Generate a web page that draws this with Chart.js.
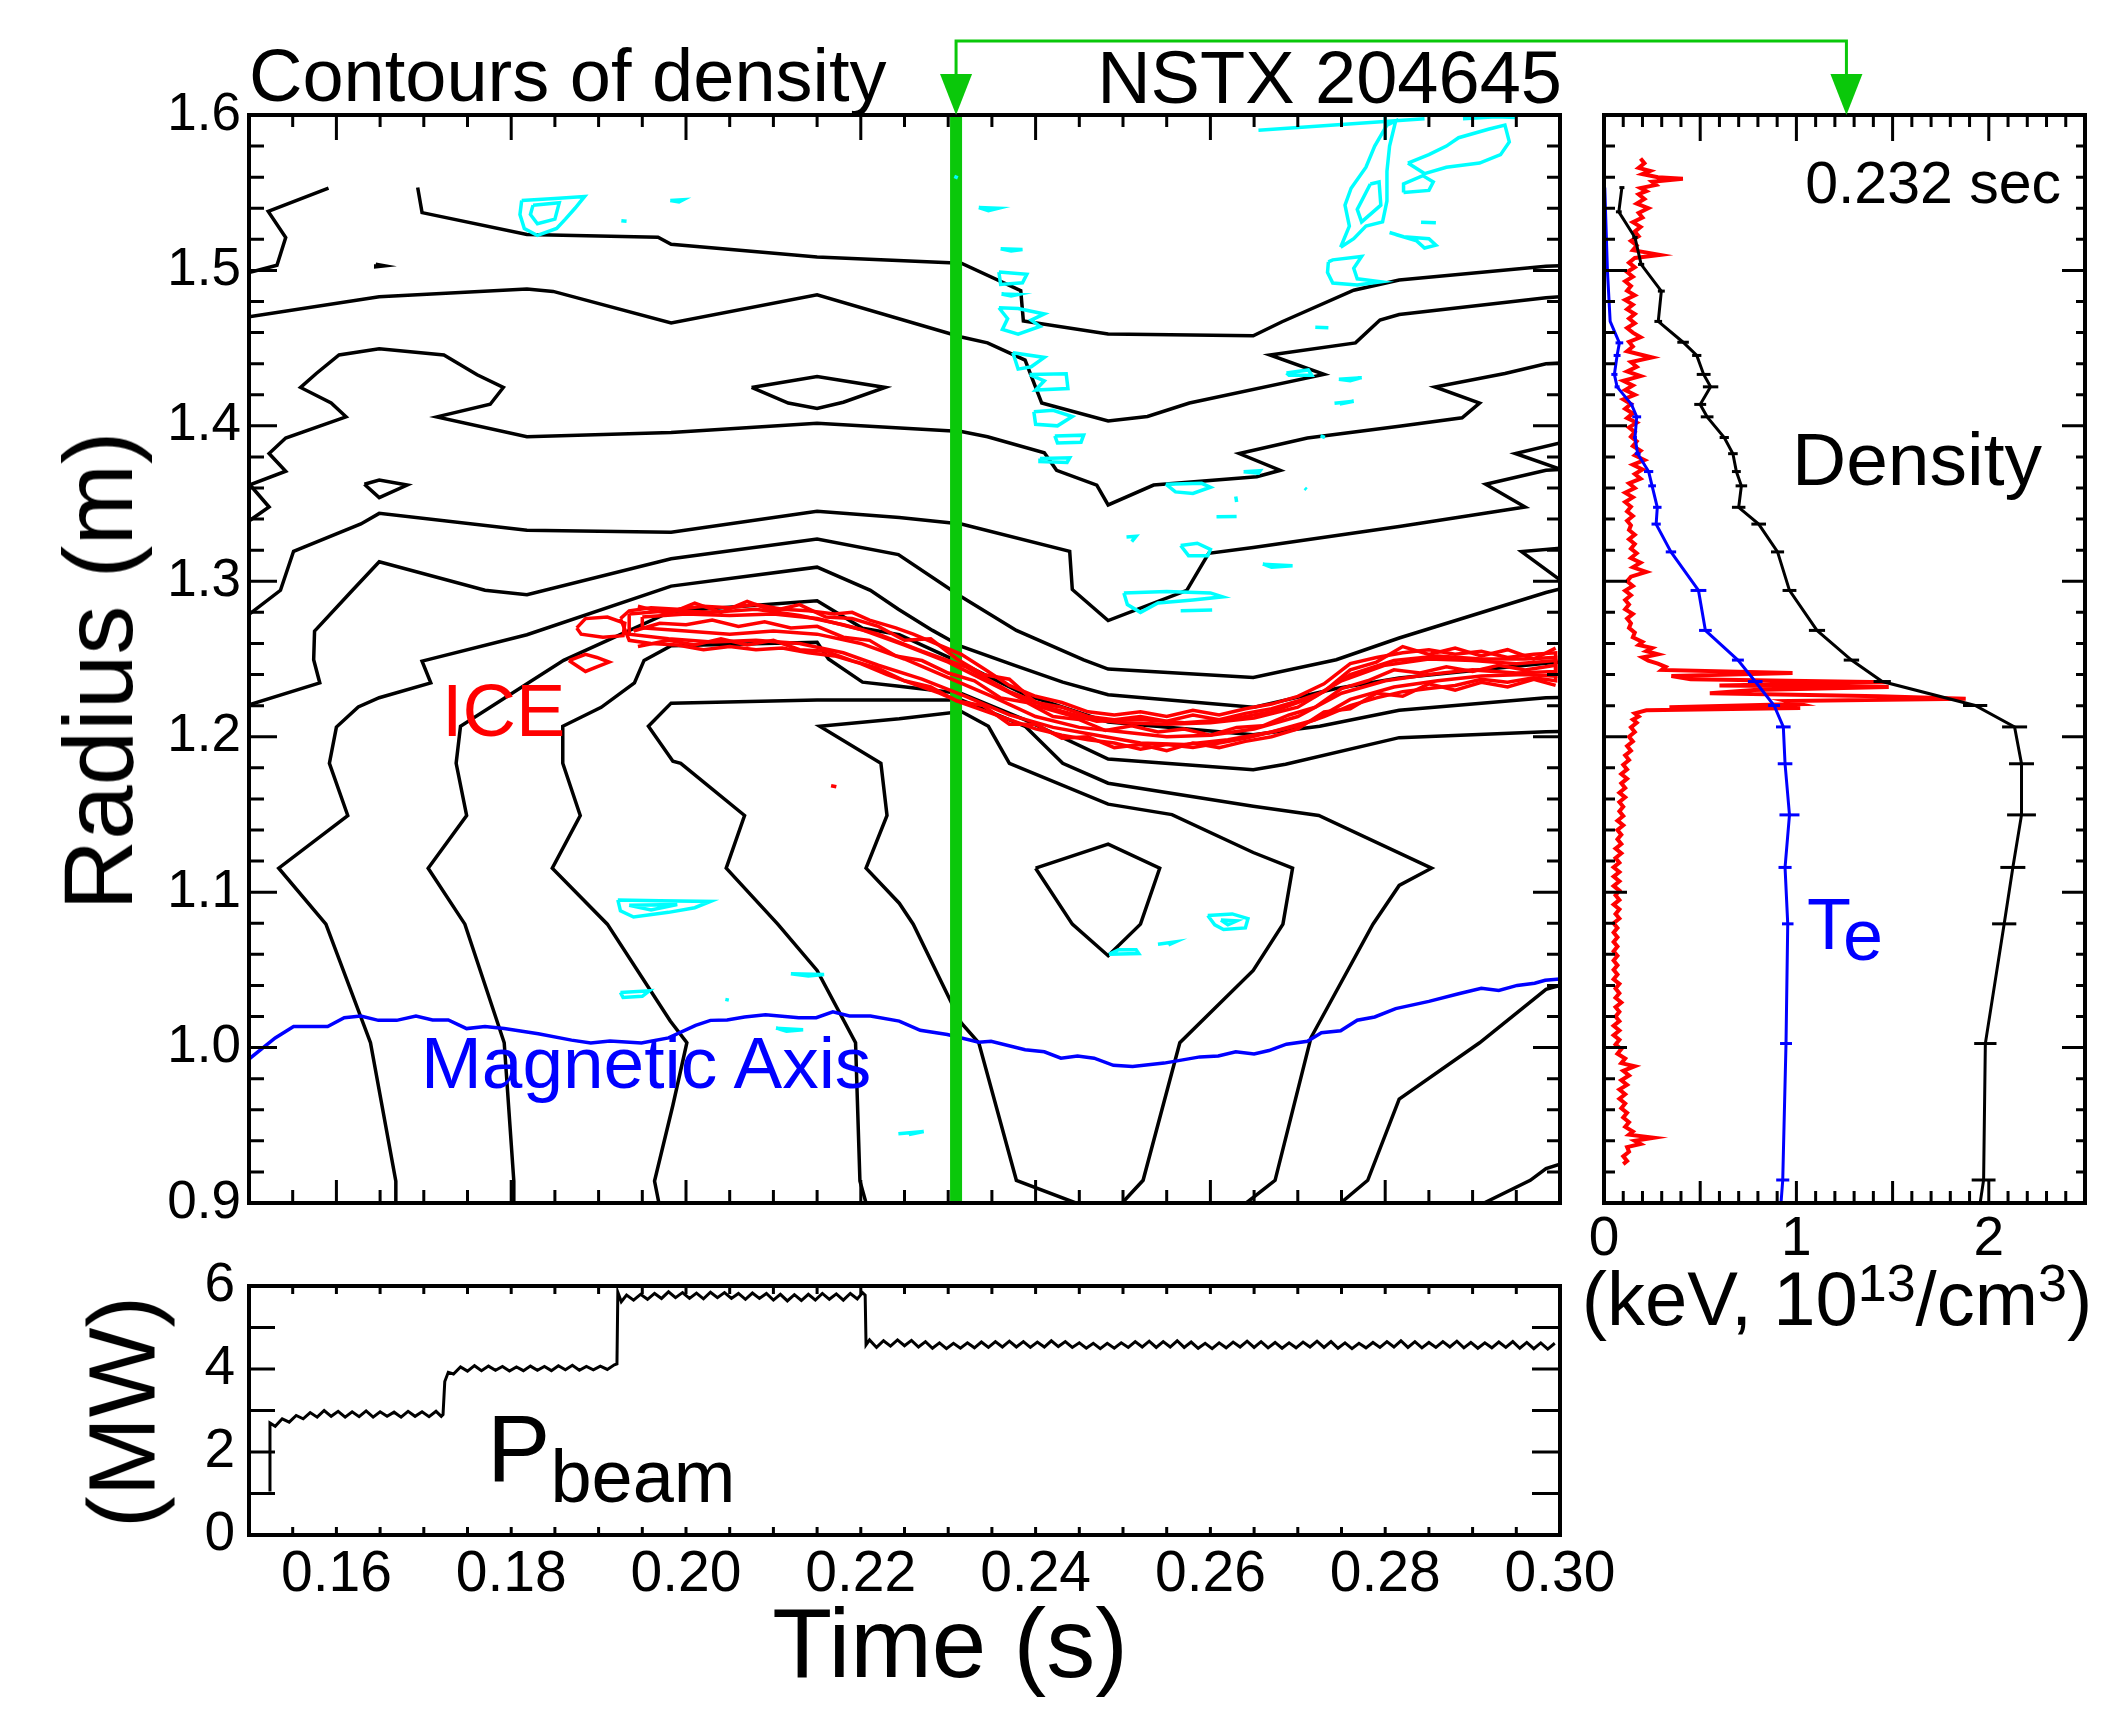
<!DOCTYPE html>
<html lang="en">
<head>
<meta charset="UTF-8">
<title>NSTX 204645 - density contours, ICE and beam power</title>
<script src="https://cdn.jsdelivr.net/npm/chart.js@4.4.1/dist/chart.umd.min.js"></script>
<style>
  body { margin: 0; background: #fff; }
  #page { position: relative; width: 2117px; height: 1709px; overflow: hidden; background: #fff;
          font-family: 'Liberation Sans', Arial, Helvetica, sans-serif; }
  #page canvas { position: absolute; left: 0; top: 0; }
  .lbl { position: absolute; line-height: 1; white-space: nowrap; color: #000; }
  .rot { transform: translate(-50%, -50%) rotate(-90deg); }
  .sup { font-size: 52px; vertical-align: 24px; line-height: 0; }
</style>
</head>
<body>
<div id="page">
  <canvas id="contourChart" width="2117" height="1709"></canvas>
  <canvas id="profileChart" width="2117" height="1709"></canvas>
  <canvas id="beamChart" width="2117" height="1709"></canvas>

  <div class="lbl" style="left:249px; top:39px; font-size:74px;">Contours of density</div>
  <div class="lbl" style="right:555px; top:41px; font-size:74px;">NSTX 204645</div>
  <div class="lbl rot" style="left:98px; top:671px; font-size:98px;">Radius (m)</div>
  <div class="lbl rot" style="left:122px; top:1412px; font-size:95px;">(MW)</div>
  <div class="lbl" style="left:950px; top:1594px; font-size:98px; transform:translateX(-50%);">Time (s)</div>
  <div class="lbl" style="left:1837px; top:1261px; font-size:76px; transform:translateX(-50%);">(keV, 10<span class="sup">13</span>/cm<span class="sup">3</span>)</div>
  <div class="lbl" style="right:56px; top:154px; font-size:59px;">0.232 sec</div>
  <div class="lbl" style="left:1792px; top:422px; font-size:75px;">Density</div>
  <div class="lbl" style="left:1807px; top:888px; font-size:72px; color:#0000ff;">T<span style="position:relative; top:11px;">e</span></div>
  <div class="lbl" style="left:421px; top:1026px; font-size:73px; color:#0000ff;">Magnetic Axis</div>
  <div class="lbl" style="left:442px; top:674px; font-size:74px; color:#ff0000;">ICE</div>
  <div class="lbl" style="left:487px; top:1401px; font-size:95px;">P<span style="font-size:74px; vertical-align:-21px; line-height:0;">beam</span></div>
</div>

<script>
// ---- density contours, [time (s), radius (m)] ----
const neContourA = [[0.1591,1.5529],[0.1522,1.5380],[0.1542,1.5212],[0.1532,1.5033],[0.1500,1.4987]];
const neContourB = [[0.1693,1.5534],[0.1698,1.5372],[0.1818,1.5231],[0.1968,1.5214],[0.1983,1.5168],[0.2150,1.5087],[0.2315,1.5046],[0.2383,1.4870],[0.2386,1.4675],[0.2483,1.4591],[0.2649,1.4580],[0.2682,1.4670],[0.2764,1.4873],[0.2816,1.4938],[0.2984,1.5027],[0.3000,1.5030]];
const neContourC = [[0.1500,1.4702],[0.1649,1.4830],[0.1818,1.4881],[0.1848,1.4865],[0.1983,1.4662],[0.2150,1.4843],[0.2315,1.4572],[0.2345,1.4534],[0.2388,1.4423],[0.2407,1.4147],[0.2483,1.4031],[0.2528,1.4060],[0.2576,1.4147],[0.2730,1.4331],[0.2668,1.4456],[0.2766,1.4534],[0.2794,1.4681],[0.2816,1.4716],[0.2984,1.4824],[0.3000,1.4830]];
const neContourD = [[0.1500,1.3388],[0.1523,1.3478],[0.1501,1.3621],[0.1542,1.3708],[0.1523,1.3822],[0.1542,1.3922],[0.1611,1.4058],[0.1594,1.4147],[0.1559,1.4247],[0.1577,1.4337],[0.1603,1.4456],[0.1649,1.4496],[0.1723,1.4456],[0.1761,1.4329],[0.1791,1.4247],[0.1776,1.4139],[0.1715,1.4058],[0.1818,1.3930],[0.1983,1.3957],[0.2150,1.4017],[0.2315,1.3963],[0.2345,1.3930],[0.2410,1.3827],[0.2424,1.3714],[0.2470,1.3619],[0.2483,1.3491],[0.2535,1.3619],[0.2653,1.3673],[0.2680,1.3714],[0.2633,1.3822],[0.2711,1.3922],[0.2816,1.3998],[0.2888,1.4052],[0.2908,1.4147],[0.2857,1.4250],[0.2937,1.4337],[0.2984,1.4399],[0.3000,1.4405]];
const neContourE = [[0.1500,1.2787],[0.1536,1.2942],[0.1551,1.3193],[0.1628,1.3369],[0.1649,1.3437],[0.1818,1.3329],[0.1983,1.3315],[0.2150,1.3451],[0.2244,1.3410],[0.2315,1.3369],[0.2439,1.3193],[0.2442,1.2947],[0.2483,1.2747],[0.2573,1.2942],[0.2598,1.3180],[0.2649,1.3218],[0.2816,1.3353],[0.2960,1.3478],[0.2915,1.3624],[0.2984,1.3714],[0.3000,1.3720]];
const neContourF = [[0.1500,1.2205],[0.1581,1.2346],[0.1574,1.2495],[0.1575,1.2679],[0.1616,1.2928],[0.1649,1.3126],[0.1770,1.2942],[0.1818,1.2914],[0.1983,1.3145],[0.2150,1.3272],[0.2243,1.3172],[0.2315,1.2901],[0.2378,1.2684],[0.2455,1.2495],[0.2483,1.2435],[0.2649,1.2381],[0.2744,1.2495],[0.2816,1.2635],[0.2984,1.2928],[0.3000,1.2950]];
const neContourG = [[0.1668,0.9000],[0.1668,0.9141],[0.1639,1.0031],[0.1588,1.0794],[0.1534,1.1154],[0.1613,1.1493],[0.1592,1.1829],[0.1600,1.2062],[0.1625,1.2192],[0.1649,1.2251],[0.1708,1.2346],[0.1698,1.2486],[0.1818,1.2656],[0.1983,1.2969],[0.2150,1.3091],[0.2211,1.2942],[0.2243,1.2820],[0.2282,1.2684],[0.2315,1.2581],[0.2376,1.2459],[0.2431,1.2351],[0.2483,1.2270],[0.2649,1.2189],[0.2744,1.2310],[0.2816,1.2378],[0.2984,1.2473],[0.3000,1.2480]];
const neContourK = [[0.1803,0.9000],[0.1803,0.9141],[0.1792,1.0031],[0.1747,1.0794],[0.1705,1.1154],[0.1749,1.1493],[0.1737,1.1829],[0.1742,1.2067],[0.1860,1.2491],[0.1983,1.2806],[0.2150,1.2874],[0.2202,1.2698],[0.2244,1.2657],[0.2315,1.2473],[0.2388,1.2270],[0.2483,1.2094],[0.2649,1.2013],[0.2725,1.2067],[0.2816,1.2170],[0.2984,1.2251],[0.3000,1.2253]];
const neContourJ = [[0.1969,0.9000],[0.1964,0.9141],[0.1985,0.9629],[0.2001,1.0031],[0.1982,1.0171],[0.1910,1.0794],[0.1847,1.1154],[0.1879,1.1493],[0.1859,1.1829],[0.1859,1.2067],[0.1903,1.2189],[0.1941,1.2346],[0.1952,1.2491],[0.1983,1.2586],[0.2150,1.2608],[0.2163,1.2500],[0.2202,1.2351],[0.2244,1.2324],[0.2315,1.2278],[0.2388,1.2108],[0.2483,1.1856],[0.2649,1.1788],[0.2686,1.1823],[0.2816,1.1994],[0.2984,1.2032],[0.3000,1.2034]];
const neContourL = [[0.2206,0.9000],[0.2199,0.9141],[0.2194,1.0031],[0.2150,1.0496],[0.2105,1.0794],[0.2046,1.1154],[0.2067,1.1493],[0.1994,1.1829],[0.1985,1.1842],[0.1957,1.2067],[0.1983,1.2216],[0.2150,1.2237],[0.2315,1.2237],[0.2388,1.2067],[0.2431,1.1829],[0.2483,1.1701],[0.2649,1.1553],[0.2724,1.1493],[0.2853,1.1154],[0.2816,1.1043],[0.2786,1.0794],[0.2715,1.0063],[0.2674,0.9146],[0.2641,0.9000]];
const neContourM = [[0.2446,0.9000],[0.2378,0.9146],[0.2335,1.0031],[0.2315,1.0158],[0.2260,1.0794],[0.2244,1.0929],[0.2206,1.1154],[0.2230,1.1493],[0.2223,1.1829],[0.2153,1.2067],[0.2244,1.2115],[0.2315,1.2162],[0.2346,1.2067],[0.2370,1.1829],[0.2483,1.1566],[0.2556,1.1499],[0.2649,1.1255],[0.2694,1.1154],[0.2683,1.0794],[0.2649,1.0496],[0.2565,1.0031],[0.2523,0.9146],[0.2499,0.9000]];
const neContourN = [[0.2749,0.9000],[0.2780,0.9146],[0.2816,0.9669],[0.2908,1.0031],[0.2984,1.0375],[0.3000,1.0400]];
const neContourP = [[0.2913,0.9000],[0.2966,0.9146],[0.2984,0.9222],[0.3000,0.9250]];
const neIslandTop = [[0.2075,1.4247],[0.2150,1.4318],[0.2228,1.4247],[0.2180,1.4152],[0.2150,1.4112],[0.2117,1.4147],[0.2075,1.4247]];
const neIslandLeft = [[0.1632,1.3624],[0.1649,1.3651],[0.1681,1.3619],[0.1649,1.3538],[0.1632,1.3624]];
const neIslandCore = [[0.2400,1.1154],[0.2483,1.1309],[0.2542,1.1154],[0.2520,1.0794],[0.2483,1.0591],[0.2442,1.0794],[0.2400,1.1154]];
const neEdgeWedge1 = [[0.3000,1.3890],[0.2949,1.3822],[0.3000,1.3722]];
const neEdgeWedge2 = [[0.3000,1.3212],[0.2956,1.3191],[0.3000,1.3009]];
const neDot = [[0.1645,1.5040],[0.1655,1.5030],[0.1645,1.5024],[0.1645,1.5040]];

// ---- magnetic axis ----
const axisTime = [0.1500,0.1530,0.1551,0.1590,0.1609,0.1628,0.1648,0.1669,0.1691,0.1710,0.1728,0.1749,0.1770,0.1792,0.1831,0.1869,0.1891,0.1913,0.1949,0.1980,0.2011,0.2028,0.2047,0.2067,0.2091,0.2129,0.2149,0.2168,0.2187,0.2211,0.2244,0.2268,0.2299,0.2335,0.2349,0.2388,0.2410,0.2429,0.2448,0.2467,0.2489,0.2511,0.2547,0.2588,0.2609,0.2629,0.2650,0.2667,0.2687,0.2711,0.2727,0.2749,0.2768,0.2788,0.2812,0.2850,0.2884,0.2910,0.2930,0.2951,0.2971,0.2983,0.3000];
const axisRadius = [0.9926,1.0062,1.0135,1.0135,1.0192,1.0203,1.0175,1.0175,1.0203,1.0178,1.0178,1.0122,1.0135,1.0122,1.0089,1.0048,1.0029,1.0043,1.0029,1.0062,1.0143,1.0175,1.0178,1.0197,1.0211,1.0192,1.0192,1.0230,1.0203,1.0203,1.0170,1.0111,1.0084,1.0035,1.0041,0.9986,0.9973,0.9932,0.9946,0.9932,0.9886,0.9878,0.9900,0.9940,0.9946,0.9973,0.9959,0.9981,1.0022,1.0041,1.0095,1.0108,1.0176,1.0197,1.0251,1.0297,1.0346,1.0381,1.0368,1.0400,1.0414,1.0433,1.0441];

// ---- ICE (strong, red) contours ----
const iceOuter = [[0.1925,1.276],[0.1935,1.281],[0.196,1.283],[0.199,1.282],[0.202,1.284],[0.205,1.283],[0.208,1.285],[0.211,1.282],[0.214,1.281],[0.217,1.279],[0.219,1.280],[0.221,1.275],[0.224,1.270],[0.226,1.266],[0.229,1.259],[0.2315,1.253],[0.234,1.244],[0.237,1.233],[0.240,1.226],[0.243,1.222],[0.246,1.216],[0.249,1.214],[0.252,1.216],[0.255,1.213],[0.258,1.217],[0.261,1.214],[0.264,1.218],[0.267,1.221],[0.270,1.226],[0.273,1.234],[0.276,1.247],[0.279,1.251],[0.282,1.254],[0.285,1.256],[0.288,1.253],[0.291,1.255],[0.294,1.251],[0.297,1.253],[0.2995,1.254],
  [0.2995,1.236],[0.297,1.238],[0.294,1.235],[0.291,1.237],[0.288,1.233],[0.285,1.231],[0.282,1.229],[0.279,1.225],[0.276,1.220],[0.273,1.213],[0.270,1.207],[0.267,1.203],[0.264,1.199],[0.261,1.196],[0.258,1.193],[0.255,1.195],[0.252,1.192],[0.249,1.196],[0.246,1.198],[0.243,1.201],[0.240,1.205],[0.237,1.211],[0.234,1.217],[0.2315,1.222],[0.229,1.228],[0.226,1.234],[0.223,1.240],[0.220,1.247],[0.217,1.252],[0.214,1.254],[0.211,1.257],[0.208,1.256],[0.205,1.258],[0.202,1.256],[0.199,1.259],[0.196,1.260],[0.1935,1.262],[0.1925,1.276]];
const iceMid = [[0.1935,1.279],[0.198,1.281],[0.203,1.280],[0.208,1.282],[0.213,1.278],[0.218,1.272],[0.222,1.266],[0.227,1.255],[0.232,1.245],[0.237,1.229],[0.242,1.218],[0.247,1.210],[0.252,1.211],[0.257,1.209],[0.262,1.211],[0.267,1.216],[0.272,1.226],[0.276,1.240],[0.281,1.249],[0.286,1.252],[0.291,1.250],[0.296,1.250],[0.2995,1.251],
  [0.2995,1.239],[0.296,1.240],[0.291,1.239],[0.286,1.236],[0.281,1.232],[0.276,1.224],[0.272,1.211],[0.267,1.203],[0.262,1.198],[0.257,1.195],[0.252,1.196],[0.247,1.201],[0.242,1.206],[0.237,1.214],[0.232,1.226],[0.227,1.237],[0.222,1.246],[0.218,1.254],[0.213,1.260],[0.208,1.262],[0.203,1.261],[0.198,1.263],[0.1935,1.266],[0.1935,1.279]];
const iceInner = [[0.195,1.277],[0.200,1.279],[0.205,1.278],[0.210,1.279],[0.215,1.276],[0.220,1.269],[0.225,1.259],[0.230,1.248],[0.235,1.234],[0.240,1.220],[0.245,1.212],[0.250,1.209],[0.255,1.208],[0.260,1.209],[0.265,1.212],[0.270,1.219],[0.275,1.236],[0.280,1.246],[0.285,1.250],[0.290,1.249],[0.295,1.247],[0.2995,1.249],
  [0.2995,1.242],[0.295,1.241],[0.290,1.243],[0.285,1.240],[0.280,1.236],[0.275,1.228],[0.270,1.213],[0.265,1.205],[0.260,1.201],[0.255,1.200],[0.250,1.203],[0.245,1.206],[0.240,1.213],[0.235,1.226],[0.230,1.238],[0.225,1.250],[0.220,1.260],[0.215,1.266],[0.210,1.268],[0.205,1.266],[0.200,1.268],[0.195,1.270],[0.195,1.277]];
const iceTrace = [[0.194,1.268],[0.197,1.273],[0.200,1.272],[0.203,1.275],[0.206,1.271],[0.209,1.274],[0.212,1.270],[0.215,1.271],[0.218,1.264],[0.221,1.262],[0.224,1.252],[0.227,1.249],[0.230,1.241],[0.233,1.236],[0.236,1.225],[0.239,1.222],[0.242,1.213],[0.245,1.211],[0.248,1.204],[0.251,1.207],[0.254,1.203],[0.257,1.205],[0.260,1.201],[0.263,1.206],[0.266,1.207],[0.269,1.214],[0.272,1.219],[0.275,1.231],[0.278,1.236],[0.281,1.243],[0.284,1.241],[0.287,1.245],[0.290,1.242],[0.293,1.246],[0.296,1.243],[0.2995,1.246]];
const iceUpperJag = [[0.1945,1.284],[0.198,1.279],[0.201,1.286],[0.204,1.280],[0.207,1.287],[0.210,1.281],[0.213,1.285],[0.216,1.277],[0.219,1.276],[0.222,1.271],[0.225,1.262],[0.228,1.263],[0.231,1.250],[0.234,1.240],[0.237,1.237],[0.240,1.222],[0.243,1.219],[0.246,1.213],[0.249,1.211],[0.252,1.213],[0.255,1.210],[0.258,1.214],[0.261,1.211],[0.264,1.215],[0.267,1.218],[0.270,1.223],[0.273,1.229],[0.276,1.243],[0.279,1.248],[0.282,1.258],[0.285,1.253],[0.288,1.257],[0.291,1.252],[0.294,1.256],[0.297,1.250],[0.2995,1.257]];
const iceLowerJag = [[0.1945,1.258],[0.198,1.262],[0.201,1.259],[0.204,1.263],[0.207,1.259],[0.210,1.262],[0.213,1.256],[0.216,1.255],[0.219,1.249],[0.222,1.244],[0.225,1.236],[0.228,1.232],[0.231,1.223],[0.234,1.220],[0.237,1.208],[0.240,1.208],[0.243,1.199],[0.246,1.200],[0.249,1.193],[0.252,1.195],[0.255,1.191],[0.258,1.196],[0.261,1.193],[0.264,1.197],[0.267,1.200],[0.270,1.205],[0.273,1.216],[0.276,1.218],[0.279,1.228],[0.282,1.226],[0.285,1.234],[0.288,1.230],[0.291,1.235],[0.294,1.232],[0.297,1.237],[0.2995,1.233]];
const iceBlobUpper = [[0.1875,1.270],[0.1885,1.276],[0.1910,1.277],[0.1930,1.273],[0.1928,1.265],[0.1905,1.264],[0.1880,1.266],[0.1875,1.270]];
const iceBlobLower = [[0.1866,1.249],[0.1885,1.253],[0.1898,1.251],[0.1912,1.248],[0.1898,1.245],[0.1885,1.242],[0.1866,1.249]];
const iceDot = [[0.2166,1.1685],[0.2172,1.1678]];

// ---- ICE (weak, cyan) contours ----
const weakTopLeft = [[0.1812,1.5450],[0.1850,1.5462],[0.1884,1.5476],[0.1873,1.5400],[0.1862,1.5330],[0.1852,1.5270],[0.1830,1.5225],[0.1815,1.5270],[0.1810,1.5360],[0.1812,1.5450]];
const weakTopLeftIn = [[0.1825,1.5420],[0.1855,1.5435],[0.1850,1.5330],[0.1830,1.5300],[0.1822,1.5360],[0.1825,1.5420]];
const weakSpecks = [
  [[0.1982,1.5450],[0.1997,1.5455],[0.1992,1.5440],[0.1982,1.5450]],
  [[0.1926,1.5320],[0.1932,1.5316]],
  [[0.2307,1.5605],[0.2311,1.5595]],
  [[0.2335,1.5405],[0.2357,1.5400],[0.2346,1.5385],[0.2335,1.5405]],
  [[0.2720,1.4635],[0.2735,1.4632]],
  [[0.2687,1.4340],[0.2712,1.4360],[0.2716,1.4325],[0.2690,1.4325],[0.2687,1.4340]],
  [[0.2747,1.4300],[0.2773,1.4310],[0.2760,1.4290],[0.2747,1.4300]],
  [[0.2742,1.4145],[0.2764,1.4158],[0.2748,1.4140]],
  [[0.2726,1.3935],[0.2731,1.3925]],
  [[0.2638,1.3705],[0.2657,1.3712],[0.2655,1.3695],[0.2638,1.3705]],
  [[0.2549,1.3625],[0.2590,1.3630],[0.2600,1.3605],[0.2580,1.3565],[0.2560,1.3575],[0.2549,1.3625]],
  [[0.2708,1.3600],[0.2710,1.3590]],
  [[0.2629,1.3545],[0.2630,1.3510]],
  [[0.2607,1.3415],[0.2630,1.3417]],
  [[0.2504,1.3285],[0.2515,1.3290],[0.2510,1.3255]],
  [[0.2566,1.3230],[0.2585,1.3245],[0.2600,1.3205],[0.2597,1.3165],[0.2575,1.3165],[0.2566,1.3230]],
  [[0.2660,1.3110],[0.2694,1.3100],[0.2670,1.3090],[0.2660,1.3110]],
  [[0.2501,1.2925],[0.2550,1.2935],[0.2600,1.2925],[0.2614,1.2900],[0.2580,1.2880],[0.2540,1.2860],[0.2520,1.2800],[0.2505,1.2850],[0.2501,1.2925]],
  [[0.2566,1.2810],[0.2602,1.2815]],
  [[0.1922,1.0950],[0.1970,1.0945],[0.2028,1.0940],[0.2010,1.0900],[0.1980,1.0870],[0.1940,1.0840],[0.1925,1.0880],[0.1922,1.0950]],
  [[0.1935,1.0915],[0.1990,1.0920],[0.1960,1.0885],[0.1935,1.0915]],
  [[0.1925,1.0355],[0.1958,1.0365],[0.1950,1.0330],[0.1928,1.0322],[0.1925,1.0355]],
  [[0.2120,1.0475],[0.2158,1.0470],[0.2140,1.0460],[0.2120,1.0475]],
  [[0.2045,1.0310],[0.2049,1.0305]],
  [[0.2103,1.0125],[0.2134,1.0115],[0.2115,1.0105],[0.2103,1.0125]],
  [[0.2597,1.0850],[0.2625,1.0860],[0.2643,1.0830],[0.2640,1.0770],[0.2615,1.0760],[0.2605,1.0790],[0.2597,1.0850]],
  [[0.2612,1.0820],[0.2630,1.0815],[0.2620,1.0790],[0.2612,1.0820]],
  [[0.2484,1.0600],[0.2495,1.0630],[0.2515,1.0630],[0.2518,1.0605],[0.2484,1.0600]],
  [[0.2540,1.0665],[0.2560,1.0680],[0.2552,1.0660]],
  [[0.2243,0.9445],[0.2272,0.9460],[0.2255,0.9440]]
];
const weakStreak = [
  [[0.2360,1.5140],[0.2385,1.5135],[0.2372,1.5125],[0.2360,1.5140]],
  [[0.2358,1.4990],[0.2390,1.4975],[0.2385,1.4920],[0.2360,1.4910],[0.2358,1.4990]],
  [[0.2361,1.4848],[0.2380,1.4845],[0.2372,1.4835],[0.2361,1.4848]],
  [[0.2358,1.4760],[0.2380,1.4755],[0.2410,1.4720],[0.2395,1.4680],[0.2405,1.4640],[0.2380,1.4590],[0.2362,1.4620],[0.2368,1.4690],[0.2358,1.4760]],
  [[0.2374,1.4470],[0.2410,1.4440],[0.2395,1.4380],[0.2380,1.4365],[0.2374,1.4470]],
  [[0.2393,1.4330],[0.2435,1.4335],[0.2437,1.4240],[0.2400,1.4230],[0.2410,1.4290],[0.2393,1.4330]],
  [[0.2398,1.4090],[0.2420,1.4100],[0.2442,1.4060],[0.2425,1.4000],[0.2400,1.4010],[0.2398,1.4090]],
  [[0.2422,1.3935],[0.2455,1.3940],[0.2452,1.3895],[0.2425,1.3890],[0.2422,1.3935]],
  [[0.2405,1.3790],[0.2439,1.3795],[0.2436,1.3765],[0.2405,1.3770],[0.2405,1.3790]]
];
const weakTopRight = [
  [[0.2735,1.5055],[0.2740,1.5068],[0.2773,1.5090],[0.2764,1.5014],[0.2768,1.4946],[0.2795,1.4927],[0.2768,1.4906],[0.2740,1.4919],[0.2734,1.4987],[0.2735,1.5055]],
  [[0.2749,1.5149],[0.2759,1.5285],[0.2754,1.5420],[0.2761,1.5529],[0.2778,1.5664],[0.2788,1.5800],[0.2802,1.5935],[0.2812,1.5962],[0.2805,1.5800],[0.2802,1.5637],[0.2802,1.5447],[0.2797,1.5312],[0.2778,1.5285],[0.2764,1.5204],[0.2749,1.5149]],
  [[0.2826,1.5691],[0.2850,1.5745],[0.2870,1.5800],[0.2884,1.5854],[0.2918,1.5908],[0.2937,1.5935],[0.2942,1.5827],[0.2932,1.5745],[0.2908,1.5691],[0.2870,1.5664],[0.2845,1.5623],[0.2826,1.5691]],
  [[0.2805,1.5244],[0.2821,1.5217],[0.2850,1.5204],[0.2858,1.5163],[0.2845,1.5144],[0.2836,1.5190],[0.2812,1.5231]],
  [[0.2821,1.5502],[0.2850,1.5515],[0.2855,1.5569],[0.2843,1.5610],[0.2821,1.5556],[0.2821,1.5502]],
  [[0.2889,1.5976],[0.2927,1.5989],[0.2949,1.5984]],
  [[0.2655,1.5902],[0.2845,1.5976]],
  [[0.2783,1.5556],[0.2793,1.5569],[0.2795,1.5420],[0.2773,1.5312],[0.2768,1.5393],[0.2783,1.5556]],
  [[0.2800,1.5989],[0.2800,1.5840]],
  [[0.2841,1.5310],[0.2858,1.5306]]
];

// ---- snapshot profiles at 0.232 s (Thomson scattering) ----
const neRadius = [1.5533,1.5377,1.5212,1.5039,1.4867,1.4672,1.4538,1.4453,1.4331,1.4251,1.4138,1.4058,1.3925,1.3821,1.3706,1.3614,1.3476,1.3368,1.3189,1.2941,1.2684,1.2493,1.2355,1.2201,1.2063,1.1826,1.1497,1.1159,1.0796,1.0026,0.9148,0.9000];
const neValue = [0.093,0.077,0.161,0.193,0.298,0.282,0.411,0.482,0.518,0.554,0.500,0.536,0.625,0.670,0.688,0.714,0.700,0.804,0.902,0.964,1.107,1.286,1.446,1.929,2.134,2.170,2.170,2.125,2.080,1.982,1.973,1.955];
const neError = [0.013,0.015,0.014,0.016,0.018,0.020,0.030,0.024,0.036,0.040,0.031,0.033,0.024,0.025,0.023,0.030,0.035,0.038,0.034,0.036,0.042,0.040,0.045,0.063,0.065,0.065,0.075,0.065,0.063,0.058,0.062,0];
const teRadius = [1.5533,1.4993,1.4672,1.4534,1.4453,1.4331,1.4251,1.4138,1.4058,1.3925,1.3821,1.3706,1.3614,1.3476,1.3368,1.3189,1.2941,1.2684,1.2493,1.2355,1.2201,1.2063,1.1826,1.1497,1.1159,1.0796,1.0026,0.9148,0.9000];
const teValue = [0.004,0.018,0.032,0.080,0.068,0.054,0.068,0.143,0.170,0.161,0.175,0.232,0.250,0.277,0.271,0.348,0.491,0.527,0.696,0.786,0.884,0.932,0.941,0.964,0.941,0.955,0.946,0.929,0.920];
const teError = [0,0,0,0.020,0.018,0.016,0.013,0.010,0.023,0.010,0.015,0.024,0.020,0.022,0.024,0.027,0.041,0.033,0.031,0.038,0.031,0.038,0.038,0.052,0.034,0.030,0.031,0.034,0];
const iceProfile = [[0.19,1.572],[0.21,1.569],[0.18,1.566],[0.24,1.564],[0.20,1.562],[0.28,1.560],[0.41,1.559],[0.25,1.557],[0.27,1.555],[0.19,1.553],[0.22,1.551],[0.18,1.549],[0.21,1.546],[0.17,1.543],[0.23,1.540],[0.18,1.537],[0.20,1.534],[0.15,1.531],[0.19,1.528],[0.16,1.525],[0.18,1.522],[0.14,1.519],[0.17,1.516],[0.15,1.513],[0.29,1.510],[0.16,1.508],[0.13,1.505],[0.16,1.502],[0.12,1.499],[0.15,1.496],[0.11,1.493],[0.14,1.490],[0.12,1.487],[0.16,1.484],[0.11,1.481],[0.15,1.478],[0.12,1.475],[0.16,1.472],[0.13,1.469],[0.16,1.466],[0.12,1.463],[0.15,1.460],[0.19,1.457],[0.13,1.454],[0.15,1.451],[0.12,1.448],[0.25,1.444],[0.14,1.441],[0.17,1.438],[0.12,1.435],[0.19,1.432],[0.10,1.429],[0.15,1.426],[0.11,1.423],[0.16,1.420],[0.10,1.417],[0.14,1.414],[0.11,1.411],[0.15,1.408],[0.12,1.405],[0.17,1.402],[0.13,1.399],[0.16,1.396],[0.14,1.393],[0.17,1.390],[0.15,1.387],[0.19,1.384],[0.16,1.381],[0.21,1.378],[0.15,1.375],[0.20,1.372],[0.16,1.369],[0.19,1.366],[0.13,1.363],[0.16,1.360],[0.11,1.357],[0.15,1.354],[0.11,1.351],[0.14,1.348],[0.12,1.345],[0.15,1.342],[0.12,1.339],[0.14,1.336],[0.13,1.333],[0.16,1.330],[0.13,1.327],[0.16,1.324],[0.14,1.321],[0.17,1.318],[0.14,1.315],[0.19,1.312],[0.15,1.309],[0.22,1.306],[0.14,1.303],[0.12,1.300],[0.15,1.297],[0.11,1.294],[0.14,1.291],[0.11,1.288],[0.13,1.285],[0.11,1.282],[0.15,1.279],[0.12,1.276],[0.14,1.273],[0.13,1.270],[0.16,1.267],[0.15,1.264],[0.20,1.261],[0.18,1.259],[0.25,1.257],[0.22,1.255],[0.28,1.253],[0.20,1.251],[0.23,1.249],[0.28,1.247],[0.32,1.245],[0.30,1.243],[0.98,1.241],[0.35,1.239],[0.45,1.237],[1.47,1.235],[0.60,1.233],[1.48,1.232],[0.78,1.230],[0.55,1.228],[1.43,1.226],[1.88,1.2245],[0.95,1.223],[1.02,1.221],[0.34,1.219],[1.02,1.2185],[0.22,1.217],[0.16,1.215],[0.18,1.213],[0.15,1.211],[0.17,1.209],[0.14,1.206],[0.16,1.203],[0.13,1.200],[0.15,1.197],[0.12,1.194],[0.14,1.191],[0.11,1.188],[0.13,1.185],[0.10,1.182],[0.12,1.179],[0.09,1.176],[0.12,1.173],[0.09,1.170],[0.11,1.167],[0.08,1.164],[0.11,1.161],[0.08,1.158],[0.10,1.155],[0.08,1.152],[0.10,1.149],[0.07,1.146],[0.10,1.143],[0.07,1.140],[0.09,1.137],[0.07,1.134],[0.09,1.131],[0.06,1.128],[0.09,1.125],[0.06,1.122],[0.08,1.119],[0.05,1.116],[0.08,1.113],[0.05,1.110],[0.08,1.107],[0.05,1.104],[0.08,1.101],[0.06,1.098],[0.08,1.095],[0.05,1.092],[0.08,1.089],[0.06,1.086],[0.08,1.083],[0.05,1.080],[0.07,1.077],[0.05,1.074],[0.07,1.071],[0.05,1.068],[0.07,1.065],[0.05,1.062],[0.07,1.059],[0.05,1.056],[0.07,1.053],[0.05,1.050],[0.07,1.047],[0.05,1.044],[0.08,1.041],[0.06,1.038],[0.08,1.035],[0.06,1.032],[0.09,1.029],[0.06,1.026],[0.08,1.023],[0.06,1.020],[0.08,1.017],[0.05,1.014],[0.08,1.011],[0.05,1.008],[0.08,1.005],[0.06,1.002],[0.09,0.999],[0.07,0.996],[0.11,0.993],[0.09,0.990],[0.16,0.988],[0.10,0.985],[0.13,0.982],[0.09,0.979],[0.12,0.976],[0.08,0.973],[0.11,0.970],[0.08,0.967],[0.11,0.964],[0.09,0.961],[0.12,0.958],[0.10,0.955],[0.13,0.952],[0.11,0.949],[0.15,0.946],[0.13,0.944],[0.26,0.942],[0.16,0.940],[0.19,0.938],[0.12,0.936],[0.13,0.933],[0.10,0.930],[0.12,0.927],[0.10,0.925]];

// ---- neutral beam power, [time (s), MW] ----
const beamPower = [[0.1524,1.05],[0.1524,2.70],[0.1530,2.62],[0.1538,2.80],[0.1546,2.72],[0.1554,2.88],[0.1562,2.80],[0.1570,2.95],[0.1578,2.84],[0.1586,3.00],[0.1594,2.86],[0.1602,2.98],[0.1610,2.84],[0.1618,2.97],[0.1626,2.85],[0.1634,2.99],[0.1642,2.84],[0.1650,2.97],[0.1658,2.86],[0.1666,2.96],[0.1674,2.84],[0.1682,2.98],[0.1690,2.86],[0.1698,2.97],[0.1706,2.85],[0.1714,2.98],[0.1720,2.86],[0.1722,2.90],
  [0.1724,3.70],[0.1728,3.92],[0.1734,3.88],[0.1742,4.05],[0.1750,3.95],[0.1758,4.08],[0.1766,3.96],[0.1774,4.07],[0.1782,3.97],[0.1790,4.06],[0.1798,3.95],[0.1806,4.05],[0.1814,3.96],[0.1822,4.07],[0.1830,3.97],[0.1838,4.06],[0.1846,3.96],[0.1854,4.08],[0.1862,3.98],[0.1870,4.09],[0.1878,3.97],[0.1886,4.06],[0.1894,3.98],[0.1902,4.07],[0.1910,3.99],[0.1918,4.10],[0.1921,4.12],
  [0.1922,5.85],[0.1926,5.62],[0.1932,5.78],[0.1940,5.66],[0.1948,5.80],[0.1956,5.68],[0.1964,5.82],[0.1972,5.70],[0.1980,5.86],[0.1988,5.72],[0.1996,5.84],[0.2004,5.70],[0.2012,5.83],[0.2020,5.69],[0.2028,5.85],[0.2036,5.72],[0.2044,5.84],[0.2052,5.70],[0.2060,5.82],[0.2068,5.68],[0.2076,5.83],[0.2084,5.70],[0.2092,5.82],[0.2100,5.66],[0.2108,5.80],[0.2116,5.64],[0.2124,5.79],[0.2132,5.65],[0.2140,5.80],[0.2148,5.66],[0.2156,5.82],[0.2164,5.68],[0.2172,5.81],[0.2180,5.66],[0.2188,5.82],[0.2196,5.69],[0.2202,5.84],[0.2205,5.78],
  [0.2206,4.58],[0.2210,4.70],[0.2218,4.52],[0.2226,4.68],[0.2234,4.55],[0.2242,4.70],[0.2250,4.56],[0.2258,4.69],[0.2266,4.53],[0.2274,4.66],[0.2282,4.50],[0.2290,4.63],[0.2298,4.49],[0.2306,4.62],[0.2314,4.50],[0.2322,4.63],[0.2330,4.51],[0.2338,4.65],[0.2346,4.52],[0.2354,4.66],[0.2362,4.53],[0.2370,4.67],[0.2378,4.53],[0.2386,4.66],[0.2394,4.52],[0.2402,4.65],[0.2410,4.53],[0.2418,4.68],[0.2426,4.54],[0.2434,4.66],[0.2442,4.52],[0.2450,4.63],[0.2458,4.50],[0.2466,4.62],[0.2474,4.49],[0.2482,4.62],[0.2490,4.50],[0.2498,4.63],[0.2506,4.52],[0.2514,4.66],[0.2522,4.53],[0.2530,4.67],[0.2538,4.52],[0.2546,4.66],[0.2554,4.53],[0.2562,4.68],[0.2570,4.52],[0.2578,4.65],[0.2586,4.50],[0.2594,4.62],[0.2602,4.49],[0.2610,4.63],[0.2618,4.51],[0.2626,4.65],[0.2634,4.53],[0.2642,4.67],[0.2650,4.52],[0.2658,4.66],[0.2666,4.51],[0.2674,4.64],[0.2682,4.50],[0.2690,4.63],[0.2698,4.51],[0.2706,4.65],[0.2714,4.53],[0.2722,4.67],[0.2730,4.52],[0.2738,4.66],[0.2746,4.50],[0.2754,4.63],[0.2762,4.49],[0.2770,4.62],[0.2778,4.51],[0.2786,4.64],[0.2794,4.52],[0.2802,4.66],[0.2810,4.53],[0.2818,4.68],[0.2826,4.52],[0.2834,4.66],[0.2842,4.51],[0.2850,4.64],[0.2858,4.52],[0.2866,4.66],[0.2874,4.53],[0.2882,4.67],[0.2890,4.51],[0.2898,4.64],[0.2906,4.50],[0.2914,4.63],[0.2922,4.51],[0.2930,4.65],[0.2938,4.52],[0.2946,4.66],[0.2954,4.50],[0.2962,4.64],[0.2970,4.49],[0.2978,4.63],[0.2986,4.48],[0.2994,4.62]];

// ---- tick labels / markers ----
const radiusTicks = [0.9, 1.0, 1.1, 1.2, 1.3, 1.4, 1.5, 1.6];
const timeTicks = [0.16, 0.18, 0.20, 0.22, 0.24, 0.26, 0.28, 0.30];
const beamTicks = [0, 2, 4, 6];
const profileTicks = [0, 1, 2];
const snapshotTime = 0.2309;   // green line
const bracketTarget = 1.26;    // where the arrow lands on the profile panel

const GREEN = 'rgb(10,200,10)';
const FONT = 'Liberation Sans, Arial, sans-serif';

const pts = arr => arr.map(p => ({ x: p[0], y: p[1] }));
const zipPts = (xs, ys) => xs.map((x, i) => ({ x: x, y: ys[i] }));

function lineSet(data, color, width, order) {
    return { data: data, showLine: true, borderColor: color, borderWidth: width,
             pointRadius: 0, fill: false, tension: 0, order: order };
}

// inward ticks and frame, drawn from the chart scales
const frameTicks = {
    id: 'frameTicks',
    afterDraw(chart, args, opts) {
        const { ctx, chartArea: a, scales } = chart;
        ctx.save();
        ctx.strokeStyle = '#000';
        ctx.lineCap = 'butt';
        ctx.lineWidth = opts.tickWidth || 3;
        const isMajor = (v, s) => s.major && Math.abs(Math.round(v / s.major) * s.major - v) < s.step / 10;
        const xs = opts.x, ys = opts.y;
        if (xs) {
            const n = Math.round((xs.max - xs.min) / xs.step);
            for (let i = 0; i <= n; i++) {
                const v = xs.min + i * xs.step;
                const px = scales.x.getPixelForValue(v);
                const m = isMajor(v, xs) ? 1 : 0;
                ctx.beginPath();
                ctx.moveTo(px, a.top); ctx.lineTo(px, a.top + xs.top[m]);
                ctx.moveTo(px, a.bottom); ctx.lineTo(px, a.bottom - xs.bottom[m]);
                ctx.stroke();
            }
        }
        if (ys) {
            const n = Math.round((ys.max - ys.min) / ys.step);
            for (let i = 0; i <= n; i++) {
                const v = ys.min + i * ys.step;
                const py = scales.y.getPixelForValue(v);
                const m = isMajor(v, ys) ? 1 : 0;
                ctx.beginPath();
                ctx.moveTo(a.left, py); ctx.lineTo(a.left + ys.left[m], py);
                ctx.moveTo(a.right, py); ctx.lineTo(a.right - ys.right[m], py);
                ctx.stroke();
            }
        }
        ctx.lineWidth = opts.frameWidth || 4;
        ctx.strokeRect(a.left, a.top, a.right - a.left, a.bottom - a.top);
        ctx.restore();
    }
};

function fixedTicks(list) {
    return scale => { scale.ticks = list.map(v => ({ value: v })); };
}

// ---------------- contour panel ----------------
const blackContours = [neContourA, neContourB, neContourC, neContourD, neContourE, neContourF, neContourG,
    neContourK, neContourJ, neContourL, neContourM, neContourN, neContourP, neIslandTop, neIslandLeft,
    neIslandCore, neEdgeWedge1, neEdgeWedge2, neDot];
const redContours = [iceOuter, iceMid, iceInner, iceTrace, iceUpperJag, iceLowerJag, iceBlobUpper, iceBlobLower, iceDot];
const cyanContours = [weakTopLeft, weakTopLeftIn].concat(weakSpecks, weakStreak, weakTopRight);

const contourSets = [];
redContours.forEach(c => contourSets.push(lineSet(pts(c), '#ff0000', 3.5, 0)));
cyanContours.forEach(c => contourSets.push(lineSet(pts(c), '#00ffff', 3.5, 1)));
contourSets.push(lineSet([{ x: snapshotTime, y: 0.9 }, { x: snapshotTime, y: 1.6 }], GREEN, 12, 2));
contourSets.push(lineSet(zipPts(axisTime, axisRadius), '#0000ff', 3.5, 3));
blackContours.forEach(c => contourSets.push(lineSet(pts(c), '#000000', 3.5, 4)));

const mainChart = new Chart(document.getElementById('contourChart'), {
    type: 'scatter',
    data: { datasets: contourSets },
    options: {
        responsive: false, animation: false, devicePixelRatio: 1,
        layout: { padding: { left: 149, top: 115, right: 557, bottom: 506 } },
        plugins: {
            legend: { display: false }, tooltip: { enabled: false },
            frameTicks: {
                x: { min: 0.15, max: 0.30, step: 0.005, major: 0.02, top: [12, 25], bottom: [13, 23] },
                y: { min: 0.9, max: 1.6, step: 0.02, major: 0.1, left: [15, 28], right: [13, 27] }
            }
        },
        scales: {
            x: { type: 'linear', min: 0.15, max: 0.30, display: false },
            y: {
                type: 'linear', min: 0.9, max: 1.6, position: 'left',
                grid: { display: false, drawTicks: false }, border: { display: false },
                afterBuildTicks: fixedTicks(radiusTicks),
                afterFit: s => { s.width = 100; },
                ticks: { autoSkip: false, padding: 8, color: '#000',
                         font: { family: FONT, size: 53 }, callback: v => v.toFixed(1) }
            }
        }
    },
    plugins: [frameTicks]
});

// ---------------- profile panel ----------------
const bracketPlugin = {
    id: 'timeBracket',
    afterDraw(chart) {
        const ctx = chart.ctx;
        const x1 = mainChart.scales.x.getPixelForValue(snapshotTime);
        const x2 = chart.scales.x.getPixelForValue(bracketTarget);
        const tip = chart.chartArea.top;
        const yTop = tip - 74, base = tip - 41;
        ctx.save();
        ctx.strokeStyle = GREEN; ctx.fillStyle = GREEN; ctx.lineWidth = 3;
        ctx.beginPath();
        ctx.moveTo(x1, base); ctx.lineTo(x1, yTop); ctx.lineTo(x2, yTop); ctx.lineTo(x2, base);
        ctx.stroke();
        [x1, x2].forEach(x => {
            ctx.beginPath();
            ctx.moveTo(x - 16, base); ctx.lineTo(x + 16, base); ctx.lineTo(x, tip); ctx.closePath();
            ctx.fill();
        });
        ctx.restore();
    }
};

const errRadius = errs => c => {
    const s = c.chart.scales.x;
    return Math.max(0, s.getPixelForValue(errs[c.dataIndex]) - s.getPixelForValue(0));
};

new Chart(document.getElementById('profileChart'), {
    type: 'scatter',
    data: {
        datasets: [
            { data: zipPts(neValue, neRadius), showLine: true, borderColor: '#000', borderWidth: 3,
              pointStyle: 'line', pointRadius: errRadius(neError), pointBorderWidth: 3,
              pointBorderColor: '#000', order: 0 },
            { data: zipPts(teValue, teRadius), showLine: true, borderColor: '#0000ff', borderWidth: 3,
              pointStyle: 'line', pointRadius: errRadius(teError), pointBorderWidth: 3,
              pointBorderColor: '#0000ff', order: 1 },
            lineSet(pts(iceProfile), '#ff0000', 4, 2)
        ]
    },
    options: {
        responsive: false, animation: false, devicePixelRatio: 1,
        layout: { padding: { left: 1604, top: 115, right: 32, bottom: 426 } },
        plugins: {
            legend: { display: false }, tooltip: { enabled: false },
            frameTicks: {
                x: { min: 0, max: 2.5, step: 0.1, major: 0.5, top: [12, 26], bottom: [12, 22] },
                y: { min: 0.9, max: 1.6, step: 0.02, major: 0.1, left: [11, 23], right: [9, 23] }
            }
        },
        scales: {
            x: {
                type: 'linear', min: 0, max: 2.5, position: 'bottom',
                grid: { display: false, drawTicks: false }, border: { display: false },
                afterBuildTicks: fixedTicks(profileTicks),
                afterFit: s => { s.height = 80; },
                ticks: { autoSkip: false, maxRotation: 0, padding: 4, color: '#000',
                         font: { family: FONT, size: 55 }, callback: v => String(v) }
            },
            y: { type: 'linear', min: 0.9, max: 1.6, display: false }
        }
    },
    plugins: [frameTicks, bracketPlugin]
});

// ---------------- beam power panel ----------------
new Chart(document.getElementById('beamChart'), {
    type: 'scatter',
    data: { datasets: [lineSet(pts(beamPower), '#000', 3, 0)] },
    options: {
        responsive: false, animation: false, devicePixelRatio: 1,
        layout: { padding: { left: 149, top: 1286, right: 557, bottom: 94 } },
        plugins: {
            legend: { display: false }, tooltip: { enabled: false },
            frameTicks: {
                x: { min: 0.15, max: 0.30, step: 0.005, major: 0.02, top: [8, 8], bottom: [8, 8] },
                y: { min: 0, max: 6, step: 1, major: 1, left: [26, 26], right: [28, 28] }
            }
        },
        scales: {
            x: {
                type: 'linear', min: 0.15, max: 0.30, position: 'bottom',
                grid: { display: false, drawTicks: false }, border: { display: false },
                afterBuildTicks: fixedTicks(timeTicks),
                afterFit: s => { s.height = 80; },
                ticks: { autoSkip: false, maxRotation: 0, padding: 6, color: '#000',
                         font: { family: FONT, size: 57 }, callback: v => v.toFixed(2) }
            },
            y: {
                type: 'linear', min: 0, max: 6, position: 'left',
                grid: { display: false, drawTicks: false }, border: { display: false },
                afterBuildTicks: fixedTicks(beamTicks),
                afterFit: s => { s.width = 100; },
                ticks: { autoSkip: false, padding: 14, color: '#000',
                         font: { family: FONT, size: 55 }, callback: v => String(v) }
            }
        }
    },
    plugins: [frameTicks]
});
</script>
</body>
</html>
